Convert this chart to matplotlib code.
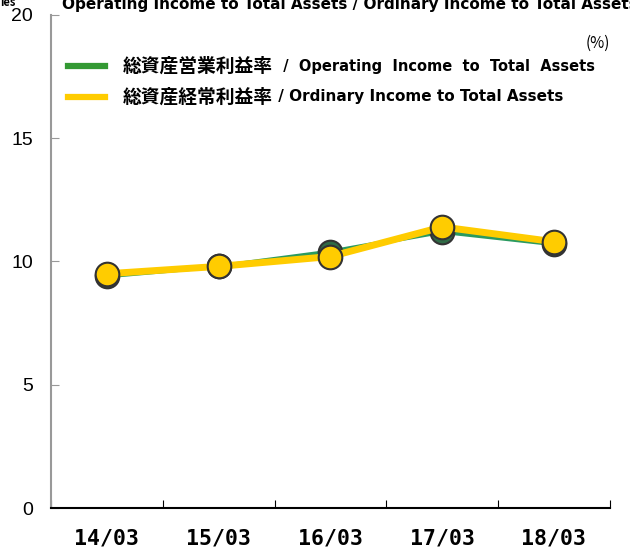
import matplotlib
matplotlib.use('Agg')
import matplotlib.pyplot as plt
import numpy as np

plt.rcParams['font.family'] = ['Noto Sans CJK JP', 'DejaVu Sans']

# データ
periods = ['14/03', '15/03', '16/03', '17/03', '18/03']
operating_roa = [9.4, 9.8, 10.4, 11.2, 10.7]
ordinary_roa = [9.5, 9.8, 10.2, 11.4, 10.8]
y_ticks = [0, 5, 10, 15, 20]

fig = plt.figure(figsize=(6.3, 5.51), dpi=100)
ax = fig.add_axes([0.081, 0.078, 0.887, 0.895])

x = np.arange(len(periods))
ax.plot(x, operating_roa, color='#2a9a60', lw=3, marker='o', ms=17,
        mfc='#2f6b46', mec='#333333', mew=1.5, zorder=3)
ax.plot(x, ordinary_roa, color='#ffcc00', lw=5, marker='o', ms=17,
        mfc='#ffcc00', mec='#333333', mew=1.5, zorder=4)

ax.set_xlim(-0.5, len(periods) - 0.5)
ax.set_ylim(0, 20)
ax.set_yticks(y_ticks)
ax.set_yticklabels([str(v) for v in y_ticks], fontsize=14, family='Liberation Sans')
ax.tick_params(axis='y', direction='in', length=6, color='#999999', pad=13)

# 目盛りは区切り、ラベルは中央
ax.set_xticks(np.arange(-0.5, len(periods)))
ax.set_xticklabels([])
ax.set_xticks(x, minor=True)
ax.set_xticklabels(periods, minor=True, fontsize=15.5, fontweight='bold',
                   family='DejaVu Sans Mono')
ax.tick_params(axis='x', which='major', direction='in', length=6, color='black')
ax.tick_params(axis='x', which='minor', length=0, pad=15)

for s in ['top', 'right']:
    ax.spines[s].set_visible(False)
ax.spines['left'].set_color('#999999')
ax.spines['left'].set_linewidth(1.5)
ax.spines['bottom'].set_linewidth(1.5)

# 凡例（手書き）
legend_items = [('総資産営業利益率', '  /  Operating  Income  to  Total  Assets', '#339933', 10.5),
                ('総資産経常利益率', ' / Ordinary Income to Total Assets', '#ffcc00', 11)]
for i, (jp, en, c, fs) in enumerate(legend_items):
    yy = 1 - (66 + i * 31) / 551
    fig.add_artist(plt.Line2D([68 / 630, 105 / 630], [yy, yy], color=c, lw=4.5))
    t = fig.text(123 / 630, yy, jp, fontsize=13.5, fontweight='bold',
                 family='Noto Sans CJK JP', va='center')
    ax.annotate(en, xy=(1, 0.5), xycoords=t, va='center', fontsize=fs,
                fontweight='bold', family='DejaVu Sans')

fig.text(610 / 630, 1 - 43 / 551, '(%)', fontsize=11, ha='right', va='center')
fig.text(62 / 630, 1 - 4 / 551,
         'Operating Income to Total Assets / Ordinary Income to Total Assets',
         fontsize=11, fontweight='bold', family='DejaVu Sans', va='center')
fig.text(0, 1 - 3 / 551, 'ies', fontsize=8, fontweight='bold', va='center')

fig.savefig('out.png', dpi=100)
